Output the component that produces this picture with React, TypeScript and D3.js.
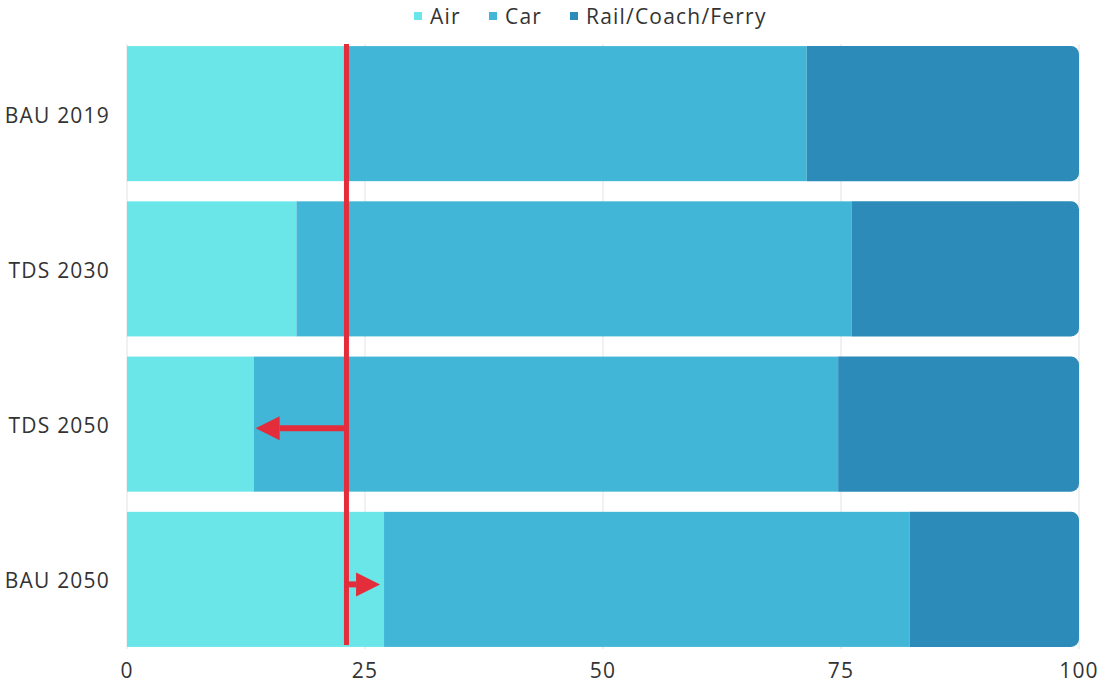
import { useEffect, useRef } from 'react';
import * as d3 from 'd3';

const scenarios = ['BAU 2019', 'TDS 2030', 'TDS 2050', 'BAU 2050'];
const modes = ['Air', 'Car', 'Rail/Coach/Ferry'];
const airShare = [23.0, 17.8, 13.3, 27.0];
const carShare = [48.4, 58.3, 61.4, 55.2];
const railShare = [28.6, 23.9, 25.3, 17.8];
const xTicks = [0, 25, 50, 75, 100];
const colors = ['#6ae5e8', '#42b6d6', '#2d8bb9'];

const W = 1099;
const H = 684;
const FONT = '"Open Sans", Inter, sans-serif';

export default function App() {
    const svgRef = useRef<SVGSVGElement>(null);

    useEffect(() => {
        if (!svgRef.current) return;
        const svg = d3.select(svgRef.current);
        svg.selectAll('*').remove();

        const x = d3.scaleLinear().domain([0, 100]).range([127, 1079]);
        const y = d3.scaleBand<string>()
            .domain(scenarios)
            .range([36, 657])
            .paddingInner(0.13)
            .paddingOuter(0.065);

        // gridlines
        svg.append('g')
            .selectAll('line')
            .data(xTicks)
            .enter()
            .append('line')
            .attr('x1', d => x(d))
            .attr('x2', d => x(d))
            .attr('y1', 44)
            .attr('y2', 649)
            .attr('stroke', '#e3e3e3')
            .attr('stroke-width', 1);

        // stacked data
        const rows = scenarios.map((s, i) => ({ s, Air: airShare[i], Car: carShare[i], 'Rail/Coach/Ferry': railShare[i] }));
        const stack = d3.stack<any>().keys(modes)(rows);

        const r = 8;
        stack.forEach((layer, li) => {
            const g = svg.append('g').attr('fill', colors[li]);
            layer.forEach((d, i) => {
                const x0 = x(d[0]);
                const x1 = x(d[1]);
                const y0 = y(scenarios[i]) as number;
                const h = y.bandwidth();
                if (li === modes.length - 1) {
                    const p = d3.path();
                    p.moveTo(x0, y0);
                    p.lineTo(x1 - r, y0);
                    p.arcTo(x1, y0, x1, y0 + r, r);
                    p.lineTo(x1, y0 + h - r);
                    p.arcTo(x1, y0 + h, x1 - r, y0 + h, r);
                    p.lineTo(x0, y0 + h);
                    p.closePath();
                    g.append('path').attr('d', p.toString());
                } else {
                    g.append('rect')
                        .attr('x', x0)
                        .attr('y', y0)
                        .attr('width', x1 - x0)
                        .attr('height', h);
                }
            });
        });

        const textStyle = (sel: any) => sel
            .attr('font-family', FONT)
            .attr('font-size', 21)
            .attr('letter-spacing', 1.2)
            .attr('fill', '#333')
            .attr('dominant-baseline', 'central');

        // y labels
        svg.append('g')
            .selectAll('text')
            .data(scenarios)
            .enter()
            .append('text')
            .attr('x', 110)
            .attr('y', d => (y(d) as number) + y.bandwidth() / 2 + 1)
            .attr('text-anchor', 'end')
            .call(textStyle)
            .text(d => d);

        // x tick labels
        svg.append('g')
            .selectAll('text')
            .data(xTicks)
            .enter()
            .append('text')
            .attr('x', d => x(d))
            .attr('y', 670)
            .attr('text-anchor', 'middle')
            .call(textStyle)
            .text(d => d);

        // reference line at BAU 2019 air share
        const refX = x(airShare[0]) + 0.5;
        const red = '#e32d3b';
        svg.append('line')
            .attr('x1', refX)
            .attr('x2', refX)
            .attr('y1', 44)
            .attr('y2', 645)
            .attr('stroke', red)
            .attr('stroke-width', 5);

        // arrows to 2050 air shares
        const arrow = (idx: number, tipX: number, dy: number) => {
            const cy = (y(scenarios[idx]) as number) + y.bandwidth() / 2 + dy;
            const dir = tipX < refX ? -1 : 1;
            const headLen = 24;
            const headHalf = 12;
            const baseX = tipX - dir * headLen;
            svg.append('line')
                .attr('x1', refX)
                .attr('x2', baseX)
                .attr('y1', cy)
                .attr('y2', cy)
                .attr('stroke', red)
                .attr('stroke-width', 6);
            svg.append('path')
                .attr('d', `M${tipX},${cy}L${baseX},${cy - headHalf}L${baseX},${cy + headHalf}Z`)
                .attr('fill', red);
        };
        arrow(2, x(airShare[2]) + 2, 4);
        arrow(3, x(airShare[3]) - 4, 5);

        // legend
        const legendX = [414, 489, 570];
        const lg = svg.append('g');
        modes.forEach((m, i) => {
            lg.append('rect')
                .attr('x', legendX[i])
                .attr('y', 12)
                .attr('width', 8)
                .attr('height', 8)
                .attr('fill', colors[i]);
            lg.append('text')
                .attr('x', legendX[i] + 16)
                .attr('y', 16)
                .call(textStyle)
                .text(m);
        });
    }, []);

    return (
        <div style={{ position: 'absolute', left: 0, top: 0, width: W, height: H }}>
            <svg ref={svgRef} width={W} height={H} style={{ display: 'block' }} />
        </div>
    );
}
